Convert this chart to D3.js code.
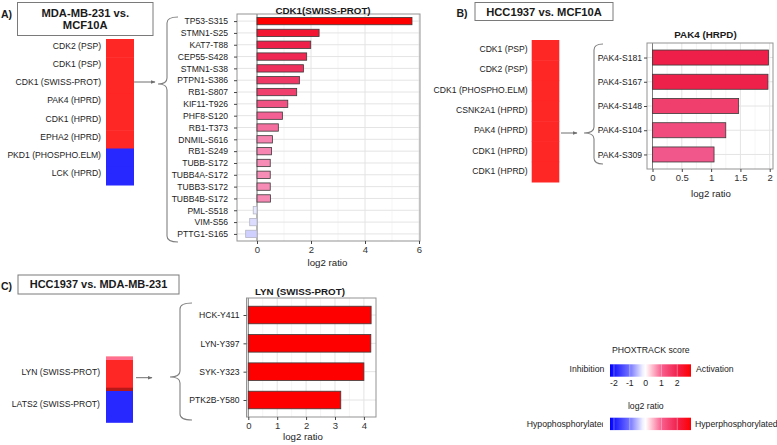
<!DOCTYPE html>
<html><head><meta charset="utf-8">
<script src="https://cdn.jsdelivr.net/npm/d3@7"></script>
<style>
body{margin:0;background:#fff;}
svg text{font-family:"Liberation Sans", Arial, Helvetica, sans-serif;}
</style>
</head><body>
<svg id="c" width="777" height="445"></svg>
<script>
// ---------------- DATA ----------------
const heatA_kinases = ["CDK2 (PSP)","CDK1 (PSP)","CDK1 (SWISS-PROT)","PAK4 (HPRD)","CDK1 (HPRD)","EPHA2 (HPRD)","PKD1 (PHOSPHO.ELM)","LCK (HPRD)"];
const heatA_scores  = [2.9,2.9,2.9,2.9,2.9,2.9,-2.9,-2.9];

const heatB_kinases = ["CDK1 (PSP)","CDK2 (PSP)","CDK1 (PHOSPHO.ELM)","CSNK2A1 (HPRD)","PAK4 (HPRD)","CDK1 (HPRD)","CDK1 (HPRD)"];
const heatB_scores  = [2.9,2.9,2.9,2.9,2.9,2.9,2.9];

const heatC_kinases = ["LYN (SWISS-PROT)","LATS2 (SWISS-PROT)"];
const heatC_scores  = [2.9,-2.9];

const barsA_sites  = ["TP53-S315","STMN1-S25","KAT7-T88","CEP55-S428","STMN1-S38","PTPN1-S386","RB1-S807","KIF11-T926","PHF8-S120","RB1-T373","DNMIL-S616","RB1-S249","TUBB-S172","TUBB4A-S172","TUBB3-S172","TUBB4B-S172","PML-S518","VIM-S56","PTTG1-S165"];
const barsA_values = [5.74,2.30,1.99,1.84,1.72,1.57,1.47,1.14,0.94,0.79,0.57,0.54,0.49,0.49,0.49,0.50,-0.14,-0.27,-0.42];
const ticksA = [0,2,4,6];
const minorA = [1,3,5];

const barsB_sites  = ["PAK4-S181","PAK4-S167","PAK4-S148","PAK4-S104","PAK4-S309"];
const barsB_values = [1.98,1.97,1.47,1.25,1.05];
const ticksB = [0,0.5,1,1.5,2];
const minorB = [0.25,0.75,1.25,1.75];

const barsC_sites  = ["HCK-Y411","LYN-Y397","SYK-Y323","PTK2B-Y580"];
const barsC_values = [4.25,4.24,4.0,3.2];
const ticksC = [0,1,2,3,4];
const minorC = [0.5,1.5,2.5,3.5];

const legendTicks = [-2,-1,0,1,2];

// ---------------- SCALES / COLOURS ----------------
const svg = d3.select("#c");
const barColor = d3.scaleLinear()
  .domain([-3,0,0.5,1,2,3])
  .range(["#0000ff","#f2f2ff","#f78ab5","#f25a8e","#ee1f48","#ff0000"]).clamp(true);
const heatColor = d3.scaleLinear().domain([-3,0,3]).range(["#2020ff","#ffffff","#ff1e1e"]).clamp(true);
const legendColor = d3.scaleLinear()
  .domain([-2.25,-1,-0.2,0,0.3,1,2,2.87])
  .range(["#0000ff","#7474ff","#eeeeff","#ffffff","#ffd0dc","#f8608e","#f2204c","#ff0000"]);

const defs = svg.append("defs");
defs.append("marker").attr("id","arr").attr("viewBox","0 0 10 10").attr("refX",9).attr("refY",5)
  .attr("markerWidth",5).attr("markerHeight",5).attr("orient","auto")
  .append("path").attr("d","M0,1 L10,5 L0,9 z").attr("fill","#6f6f6f");

// ---------------- HELPERS ----------------
function boxTitle(x0,y0,x1,y1,lines,fs,lineH){
  svg.append("rect").attr("x",x0).attr("y",y0).attr("width",x1-x0).attr("height",y1-y0)
    .attr("fill","#fff").attr("stroke","#7a7a7a").attr("stroke-width",1);
  const cx=(x0+x1)/2, n=lines.length, cy=(y0+y1)/2;
  lines.forEach((t,i)=>{
    svg.append("text").attr("x",cx).attr("y",cy+(i-(n-1)/2)*lineH).attr("dy","0.36em")
      .attr("text-anchor","middle").attr("font-weight","bold").attr("font-size",fs).attr("fill","#1a1a1a").text(t);
  });
}
function panelLetter(x,y,t){
  svg.append("text").attr("x",x).attr("y",y).attr("font-weight","bold").attr("font-size",10.5).attr("fill","#1a1a1a").text(t);
}
function heatPanel(cfg){
  const idx = d3.range(cfg.kinases.length);
  const y = d3.scaleBand().domain(idx).range([cfg.top,cfg.bottom]);
  const g = svg.append("g");
  g.selectAll("rect.cell").data(idx).join("rect").attr("class","cell")
    .attr("x",cfg.left).attr("width",cfg.right-cfg.left)
    .attr("y",i=>y(i)).attr("height",y.bandwidth()+0.5)
    .attr("fill",i=>heatColor(cfg.scores[i]));
  g.selectAll("text").data(idx).join("text")
    .attr("x",cfg.labelX).attr("y",i=>y(i)+y.bandwidth()/2+cfg.dy).attr("dy","0.35em")
    .attr("text-anchor","end").attr("font-size",8.6).attr("fill","#222").text(i=>cfg.kinases[i]);
  return y;
}
function brace(xv,top,bottom,tipX,tipY,curl){
  const r=6;
  const p=`M${xv+curl},${top} Q${xv},${top} ${xv},${top+r} L${xv},${tipY-r} Q${xv},${tipY} ${tipX},${tipY} Q${xv},${tipY} ${xv},${tipY+r} L${xv},${bottom-r} Q${xv},${bottom} ${xv+curl},${bottom}`;
  svg.append("path").attr("d",p).attr("fill","none").attr("stroke","#808080").attr("stroke-width",1.1);
}
function arrow(x0,x1,y){
  svg.append("line").attr("x1",x0).attr("x2",x1).attr("y1",y).attr("y2",y)
    .attr("stroke","#6f6f6f").attr("stroke-width",1).attr("marker-end","url(#arr)");
}
function barPanel(cfg){
  const g = svg.append("g");
  const x = d3.scaleLinear().domain(cfg.domain).range([cfg.left,cfg.right]);
  const y = d3.scalePoint().domain(cfg.sites).range([cfg.top,cfg.bottom]).padding(0.6);
  const bh = y.step()*0.62;
  g.append("rect").attr("x",cfg.left).attr("y",cfg.top).attr("width",cfg.right-cfg.left).attr("height",cfg.bottom-cfg.top).attr("fill","#fff");
  g.append("g").selectAll("line").data(cfg.minor).join("line")
    .attr("x1",d=>x(d)).attr("x2",d=>x(d)).attr("y1",cfg.top).attr("y2",cfg.bottom)
    .attr("stroke","#f1f1f1").attr("stroke-width",0.7);
  g.append("g").selectAll("line").data(cfg.ticks).join("line")
    .attr("x1",d=>x(d)).attr("x2",d=>x(d)).attr("y1",cfg.top).attr("y2",cfg.bottom)
    .attr("stroke","#e4e4e4").attr("stroke-width",1);
  g.append("g").selectAll("line").data(cfg.sites).join("line")
    .attr("x1",cfg.left).attr("x2",cfg.right).attr("y1",d=>y(d)).attr("y2",d=>y(d))
    .attr("stroke","#e4e4e4").attr("stroke-width",1);
  g.append("line").attr("x1",x(0)).attr("x2",x(0)).attr("y1",cfg.top).attr("y2",cfg.bottom)
    .attr("stroke","#7d7d7d").attr("stroke-width",1);
  g.append("g").selectAll("rect").data(cfg.sites).join("rect")
    .attr("x",(d,i)=>x(Math.min(0,cfg.values[i])))
    .attr("y",d=>y(d)-bh/2)
    .attr("width",(d,i)=>Math.abs(x(cfg.values[i])-x(0)))
    .attr("height",bh)
    .attr("fill",(d,i)=>barColor(cfg.values[i]))
    .attr("stroke",(d,i)=>cfg.values[i]<0?"#b4b4c4":"#3a3a3a")
    .attr("stroke-width",0.8);
  g.append("rect").attr("x",cfg.left).attr("y",cfg.top).attr("width",cfg.right-cfg.left).attr("height",cfg.bottom-cfg.top)
    .attr("fill","none").attr("stroke","#939393").attr("stroke-width",1);
  const ax = g.append("g").attr("transform",`translate(0,${cfg.bottom})`)
    .call(d3.axisBottom(x).tickValues(cfg.ticks).tickSize(3).tickPadding(2).tickFormat(d3.format("~g")));
  ax.select(".domain").remove();
  ax.attr("font-family",null).attr("font-size",9.5);
  ax.selectAll("line").attr("stroke","#444");
  ax.selectAll("text").attr("fill","#333");
  const ay = g.append("g").attr("transform",`translate(${cfg.left},0)`)
    .call(d3.axisLeft(y).tickSize(3).tickPadding(cfg.ypad));
  ay.select(".domain").remove();
  ay.attr("font-family",null).attr("font-size",8.6);
  ay.selectAll("line").attr("stroke","#444");
  ay.selectAll("text").attr("fill","#222");
  g.append("text").attr("x",cfg.titleX).attr("y",cfg.titleY).attr("text-anchor","middle")
    .attr("font-weight","bold").attr("font-size",9.8).attr("fill","#1a1a1a").text(cfg.title);
  g.append("text").attr("x",cfg.xlabX).attr("y",cfg.xlabY).attr("text-anchor","middle")
    .attr("font-size",9.7).attr("fill","#222").text("log2 ratio");
}

// ---------------- PANEL A ----------------
panelLetter(1,17.5,"A)");
boxTitle(17.5,2.5,153,35.5,["MDA-MB-231 vs.","MCF10A"],11.2,12.5);
heatPanel({kinases:heatA_kinases,scores:heatA_scores,left:106,right:134,top:39,bottom:185,labelX:101,dy:-2.5});
arrow(134,155,82);
brace(167,17,242,158,84,11);
barPanel({sites:barsA_sites,values:barsA_values,ticks:ticksA,minor:minorA,
  domain:[-0.741,6.037],left:237,right:420,top:14,bottom:241,ypad:6,
  title:"CDK1(SWISS-PROT)",titleX:323,titleY:13.8,xlabX:327.5,xlabY:265.5});

// ---------------- PANEL B ----------------
panelLetter(456.5,16.5,"B)");
boxTitle(475,2.5,613,20.5,["HCC1937 vs. MCF10A"],11.2,12);
heatPanel({kinases:heatB_kinases,scores:heatB_scores,left:531.7,right:559.3,top:40,bottom:182,labelX:527.7,dy:-1});
arrow(561,577,133);
brace(594,44,164,584,133,9);
barPanel({sites:barsB_sites,values:barsB_values,ticks:ticksB,minor:minorB,
  domain:[-0.094,2.056],left:647,right:773,top:43,bottom:169,ypad:2,
  title:"PAK4 (HRPD)",titleX:705.5,titleY:37.5,xlabX:711,xlabY:196.5});

// ---------------- PANEL C ----------------
panelLetter(1,289.5,"C)");
boxTitle(18,275,179,294,["HCC1937 vs. MDA-MB-231"],11,12);
const yC = heatPanel({kinases:heatC_kinases,scores:heatC_scores,left:106,right:133,top:356.7,bottom:422.3,labelX:100,dy:-1.5});
// thin rim artefacts of the heat column
svg.append("rect").attr("x",106).attr("width",27).attr("y",yC(0)).attr("height",3.3).attr("fill","#ff7090");
svg.append("rect").attr("x",106).attr("width",27).attr("y",yC(1)-1.8).attr("height",3.3).attr("fill","#b81818");
arrow(136,152,377.7);
brace(180,303,420,170,377,12);
barPanel({sites:barsC_sites,values:barsC_values,ticks:ticksC,minor:minorC,
  domain:[-0.062,4.419],left:246.5,right:376,top:298,bottom:417,ypad:4,
  title:"LYN (SWISS-PROT)",titleX:300,titleY:295,xlabX:303,xlabY:440});

// ---------------- LEGEND ----------------
const lx = d3.scaleLinear().domain([-2.25,2.87]).range([610,691]);
const grad = defs.append("linearGradient").attr("id","lg").attr("x1","0%").attr("x2","100%");
legendColor.domain().forEach(v=>{
  grad.append("stop").attr("offset",((v+2.25)/5.12*100)+"%").attr("stop-color",legendColor(v));
});
function legendBar(y0,h){
  svg.append("rect").attr("x",lx.range()[0]).attr("y",y0).attr("width",lx.range()[1]-lx.range()[0]).attr("height",h).attr("fill","url(#lg)");
  svg.append("g").selectAll("line").data(legendTicks.filter(d=>d!==0)).join("line")
    .attr("x1",d=>lx(d)).attr("x2",d=>lx(d)).attr("y1",y0).attr("y2",y0+h)
    .attr("stroke","#fff").attr("stroke-opacity",0.35).attr("stroke-width",1);
}
const LFS = 8.7;
svg.append("text").attr("x",650.8).attr("y",352.7).attr("text-anchor","middle").attr("font-size",LFS).attr("fill","#222").text("PHOXTRACK score");
legendBar(364.3,12.4);
svg.append("text").attr("x",604.3).attr("y",371.5).attr("text-anchor","end").attr("font-size",LFS).attr("fill","#222").text("Inhibition");
svg.append("text").attr("x",696).attr("y",371.5).attr("font-size",LFS).attr("fill","#222").text("Activation");
svg.append("g").selectAll("text").data(legendTicks).join("text")
  .attr("x",d=>lx(d)).attr("y",385.5).attr("text-anchor","middle").attr("font-size",LFS).attr("fill","#222").text(d=>d);
svg.append("text").attr("x",645.8).attr("y",409).attr("text-anchor","middle").attr("font-size",LFS).attr("fill","#222").text("log2 ratio");
legendBar(417.7,12.4);
defs.append("clipPath").attr("id","hc").append("rect").attr("x",500).attr("y",400).attr("width",103).attr("height",40);
svg.append("text").attr("x",526.7).attr("y",427).attr("font-size",LFS).attr("fill","#222").attr("clip-path","url(#hc)").text("Hypophosphorylated");
svg.append("text").attr("x",695).attr("y",427).attr("font-size",LFS).attr("fill","#222").text("Hyperphosphorylated");
</script>
</body></html>
